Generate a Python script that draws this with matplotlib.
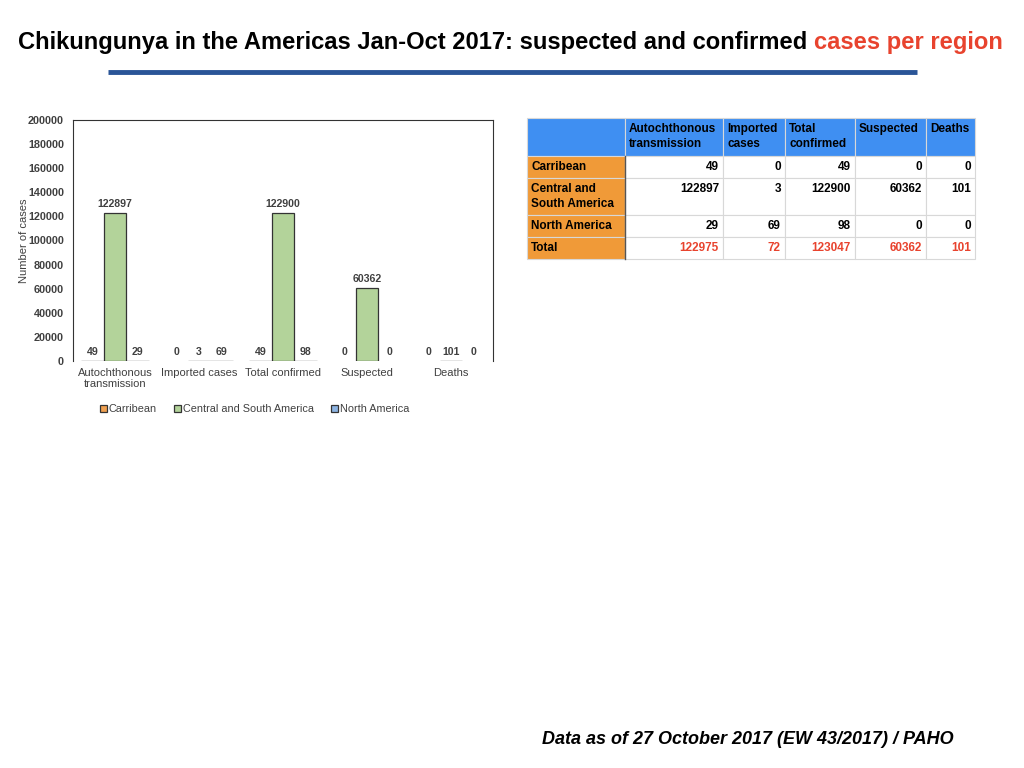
import numpy as np
import matplotlib.pyplot as plt
from matplotlib.patches import Rectangle

# data
categories = ['Autochthonous\ntransmission', 'Imported cases', 'Total confirmed', 'Suspected', 'Deaths']
regions = ['Carribean', 'Central and South America', 'North America']
carribean = [49, 0, 49, 0, 0]
central_south = [122897, 3, 122900, 60362, 101]
north_america = [29, 69, 98, 0, 0]
totals = [122975, 72, 123047, 60362, 101]

table_cols = ['Autochthonous\ntransmission', 'Imported\ncases', 'Total\nconfirmed', 'Suspected', 'Deaths']
table_rows = ['Carribean', 'Central and\nSouth America', 'North America', 'Total']

colors = ['#f0a050', '#b3d39a', '#8db4e2']
red = '#e8432e'
grey = '#404040'

plt.rcParams['font.family'] = ['Liberation Sans', 'DejaVu Sans']

fig = plt.figure(figsize=(10.24, 7.68), dpi=100)

# Titel
t1 = fig.text(18 / 1024, 1 - 42 / 768, 'Chikungunya in the Americas Jan-Oct 2017: suspected and confirmed ',
              fontsize=17.1, fontweight='bold', va='center', ha='left')
over = fig.add_axes([0, 0, 1, 1])
over.axis('off')
over.annotate('cases per region', xy=(1, 0), xycoords=t1, va='bottom', ha='left',
              fontsize=17.1, fontweight='bold', color=red)
over.plot([108 / 1024, 917 / 1024], [1 - 72 / 768, 1 - 72 / 768], color='#2a5597', lw=3.5,
          transform=fig.transFigure, solid_capstyle='butt')
fig.text(542 / 1024, 1 - 739 / 768, 'Data as of 27 October 2017 (EW 43/2017) / PAHO',
         fontsize=13, fontweight='bold', style='italic', va='center', ha='left')

# Balkendiagramm
ax = fig.add_axes([73 / 1024, 1 - 361 / 768, 420 / 1024, 241 / 768])
x = np.arange(len(categories))
w = 0.27
series = [carribean, central_south, north_america]
for i, (vals, name, c) in enumerate(zip(series, regions, colors)):
    bars = ax.bar(x + (i - 1) * w, vals, w, color=c, edgecolor='#333333', lw=0.9, label=name)
    for b in bars:
        if b.get_height() == 0:
            b.set_linewidth(0)
    ax.bar_label(bars, padding=3, fontsize=7.6, fontweight='bold', color=grey)

ax.set_xlim(-0.5, 4.5)
ax.set_ylim(0, 200000)
ax.set_yticks(np.arange(0, 200001, 20000))
ax.set_xticks(x)
ax.set_xticklabels(categories, fontsize=8, color=grey, linespacing=1.1)
ax.tick_params(axis='y', labelsize=7.8, labelcolor=grey, length=0, pad=6.5)
ax.tick_params(axis='x', length=0, pad=5)
for lbl in ax.get_yticklabels():
    lbl.set_fontweight('bold')
ax.set_ylabel('Number of cases', fontsize=8, color=grey, labelpad=-1)
for s in ax.spines.values():
    s.set_color('#333333')
    s.set_linewidth(0.8)
ax.spines['bottom'].set_visible(False)
ax.legend(loc='upper center', bbox_to_anchor=(0.433, -0.14), ncol=3, frameon=False,
          fontsize=7.8, handlelength=0.6, handleheight=0.6, handletextpad=0.2, columnspacing=1.6,
          labelcolor=grey)

# Tabelle
col_w = [98, 98, 62, 70, 71, 49]
row_h = [38, 22, 37, 22, 22]
x0, y0 = 527, 118
tab = fig.add_axes([0, 0, 1, 1])
tab.set_xlim(0, 1024)
tab.set_ylim(768, 0)
tab.axis('off')
xs = np.concatenate([[x0], x0 + np.cumsum(col_w)])
ys = np.concatenate([[y0], y0 + np.cumsum(row_h)])
body = [carribean, central_south, north_america, totals]
for r in range(len(row_h)):
    for c in range(len(col_w)):
        if r == 0:
            fc = '#3f8ff2'
        elif c == 0:
            fc = '#f09a38'
        else:
            fc = 'white'
        tab.add_patch(Rectangle((xs[c], ys[r]), col_w[c], row_h[r], facecolor=fc,
                                edgecolor='#d8d8d8', lw=0.8))
        if r == 0 and c > 0:
            tab.text(xs[c] + 4, ys[r] + 5, table_cols[c - 1], fontsize=8.5, fontweight='bold',
                     va='top', ha='left', linespacing=1.3)
        elif r > 0 and c == 0:
            tab.text(xs[c] + 4, ys[r] + 5, table_rows[r - 1], fontsize=8.5, fontweight='bold',
                     va='top', ha='left', linespacing=1.3)
        elif r > 0:
            tab.text(xs[c + 1] - 4, ys[r] + 5, str(body[r - 1][c - 1]), fontsize=8.5,
                     fontweight='bold', va='top', ha='right',
                     color=red if r == 4 else 'black')
tab.plot([xs[1], xs[1]], [ys[1], ys[-1]], color='#555555', lw=1)

fig.savefig('out.png', dpi=100)
